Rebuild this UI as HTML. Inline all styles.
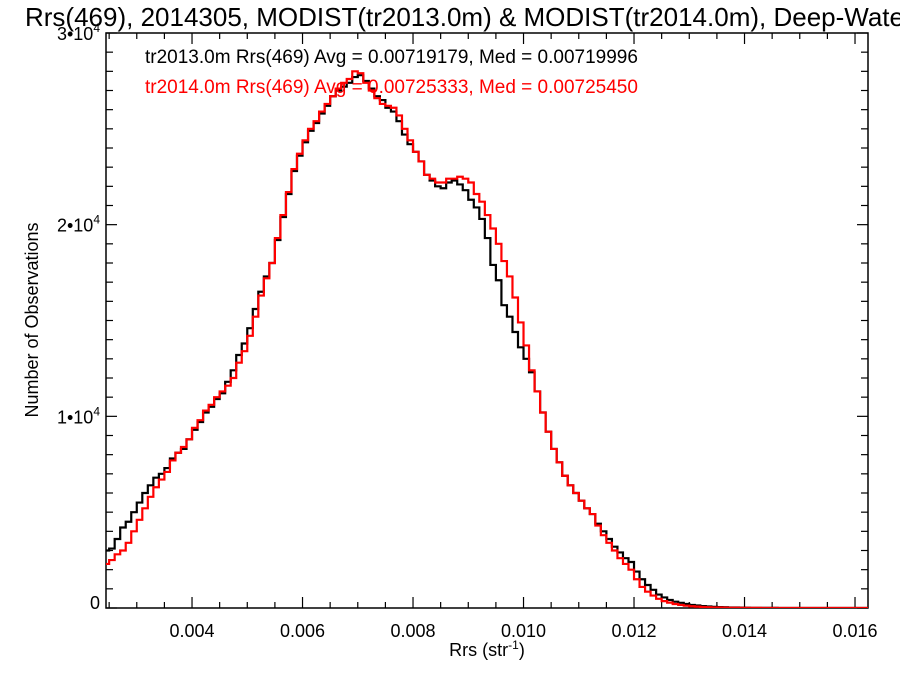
<!DOCTYPE html>
<html><head><meta charset="utf-8"><style>
body{margin:0;background:#fff;}
svg text{font-family:"Liberation Sans",Arial,sans-serif;}
</style></head><body>
<svg id="chart" width="900" height="675" viewBox="0 0 900 675" xmlns="http://www.w3.org/2000/svg">
<rect width="900" height="675" fill="#fff"/>
<text x="25" y="26" font-size="26" fill="#000">Rrs(469), 2014305, MODIST(tr2013.0m) &amp; MODIST(tr2014.0m), Deep-Water</text>
<g id="axes"></g>
<g id="series" clip-path="url(#plotclip)"></g>
<defs><clipPath id="plotclip"><rect x="106" y="33" width="762" height="575"/></clipPath></defs>
<text x="145" y="63" font-size="19" fill="#000">tr2013.0m Rrs(469) Avg = 0.00719179, Med = 0.00719996</text>
<text x="145" y="93" font-size="19" fill="#ff0000">tr2014.0m Rrs(469) Avg = 0.00725333, Med = 0.00725450</text>
<text x="487" y="656" font-size="18" text-anchor="middle">Rrs (str<tspan dy="-7" font-size="12">-1</tspan><tspan dy="7">)</tspan></text>
<text transform="translate(38,320) rotate(-90)" font-size="18" text-anchor="middle">Number of Observations</text>
</svg>
<script>
const binStart = 0.0024;
const binWidth = 0.0001;
const blackCounts = [3000,3100,3600,4200,4500,5000,5500,6000,6400,6800,7000,7300,7800,8100,8300,8800,9300,9700,10200,10500,10900,11200,11800,12400,13200,13800,14600,15600,16500,17300,18000,19200,20400,21600,22800,23600,24300,24900,25300,25800,26200,26700,27000,27200,27400,27700,27800,27500,27100,26700,26500,26100,25900,25400,24700,24200,23800,23300,22600,22300,22000,21900,22200,22300,22100,21800,21300,20900,20300,19300,17900,17100,15800,15200,14400,13600,13000,12300,11300,10200,9200,8300,7600,6900,6400,6000,5600,5200,4900,4400,4000,3600,3200,2900,2600,2400,1900,1500,1200,950,700,550,420,330,270,210,160,130,100,80,60,50,40,30,25,20,15,10,10,8,6,5,0,0,0,0,0,0,0,0,0,0,0,0,0,0,0,0,0,0,0];
const redCounts = [2300,2500,2800,3000,3400,4000,4600,5200,5800,6300,6700,7100,7700,8100,8400,8800,9400,9800,10300,10600,11000,11300,11600,12000,12800,13400,14200,15200,16300,17200,18000,19300,20500,21700,22900,23700,24400,25000,25400,25900,26300,26700,27100,27400,27600,28000,27900,27400,27000,26600,26300,26200,26100,25700,25000,24400,23800,23300,22600,22400,22200,22200,22400,22400,22500,22400,22200,21600,21200,20500,19800,19000,18100,17300,16200,14900,13700,12400,11300,10200,9200,8300,7600,6900,6400,6000,5600,5200,4900,4300,3800,3400,3000,2600,2300,2000,1500,1100,850,650,480,360,280,210,160,120,90,70,55,40,30,25,20,15,12,10,8,6,5,4,3,3,0,0,0,0,0,0,0,0,0,0,0,0,0,0,0,0,0,0,0,0];
const xTickLabels = ["0.004","0.006","0.008","0.010","0.012","0.014","0.016"];
const xTickValues = [0.004,0.006,0.008,0.010,0.012,0.014,0.016];
const yTickValues = [0,10000,20000,30000];
const yTickLabels = ["0","1•10^4","2•10^4","3•10^4"];

const NS="http://www.w3.org/2000/svg";
const L=106,R=868,T=33,B=608;
const xMin=0.002443,xMax=0.016235,yMin=0,yMax=30000;
const xs=v=>L+(v-xMin)/(xMax-xMin)*(R-L);
const ys=v=>B-(v-yMin)/(yMax-yMin)*(B-T);
const axes=document.getElementById('axes');
function mk(tag,attrs,parent){const e=document.createElementNS(NS,tag);for(const k in attrs)e.setAttribute(k,attrs[k]);parent.appendChild(e);return e;}

const frame=mk('rect',{x:L,y:T,width:R-L,height:B-T,fill:'none',stroke:'#000','stroke-width':1.5},axes);



for(let v=0.0025;v<=xMax+1e-9;v+=0.0005){
  const major=Math.abs(v*1000-Math.round(v*500)*2)<1e-6;
  const len=major?11:6;const x=xs(v);
  const t1=mk('line',{x1:x,x2:x,y1:B,y2:B-len,stroke:'#000','stroke-width':1.2},axes);
  
  
  const t2=mk('line',{x1:x,x2:x,y1:T,y2:T+len,stroke:'#000','stroke-width':1.2},axes);
  
  
}
xTickValues.forEach((v,i)=>{
  const t=mk('text',{x:xs(v),y:B+29,'font-size':18,'text-anchor':'middle'},axes);
  t.textContent=xTickLabels[i];
  
  
});
for(let v=0;v<=yMax;v+=1000){
  const major=v%10000===0;const len=major?11:7;const y=ys(v);
  const t1=mk('line',{x1:L,x2:L+len,y1:y,y2:y,stroke:'#000','stroke-width':1.2},axes);
  
  
  const t2=mk('line',{x1:R,x2:R-len,y1:y,y2:y,stroke:'#000','stroke-width':1.2},axes);
  
  
}
yTickValues.forEach((v,i)=>{
  const lab=yTickLabels[i];
  const t=mk('text',{x:100,y:ys(v)+(v===0?1:7),'font-size':18,'text-anchor':'end'},axes);
  
  
  if(lab.includes('^')){
    const p=lab.split('^');
    t.textContent=p[0];
    const s=document.createElementNS(NS,'tspan');s.setAttribute('dy','-8');s.setAttribute('font-size','12');s.textContent=p[1];t.appendChild(s);
  } else t.textContent=lab;
});
const series=document.getElementById('series');
function stepPath(arr){
  let d='';
  arr.forEach((c,i)=>{
    const x0=xs(binStart+i*binWidth),x1=xs(binStart+(i+1)*binWidth),y=ys(c);
    d+=(i===0?'M'+x0+','+y:'V'+y)+'H'+x1;
  });
  return d;
}
const pb=mk('path',{d:stepPath(blackCounts),fill:'none',stroke:'#000','stroke-width':2.2},series);


const pr=mk('path',{d:stepPath(redCounts),fill:'none',stroke:'#ff0000','stroke-width':2.2},series);


</script>
</body></html>
